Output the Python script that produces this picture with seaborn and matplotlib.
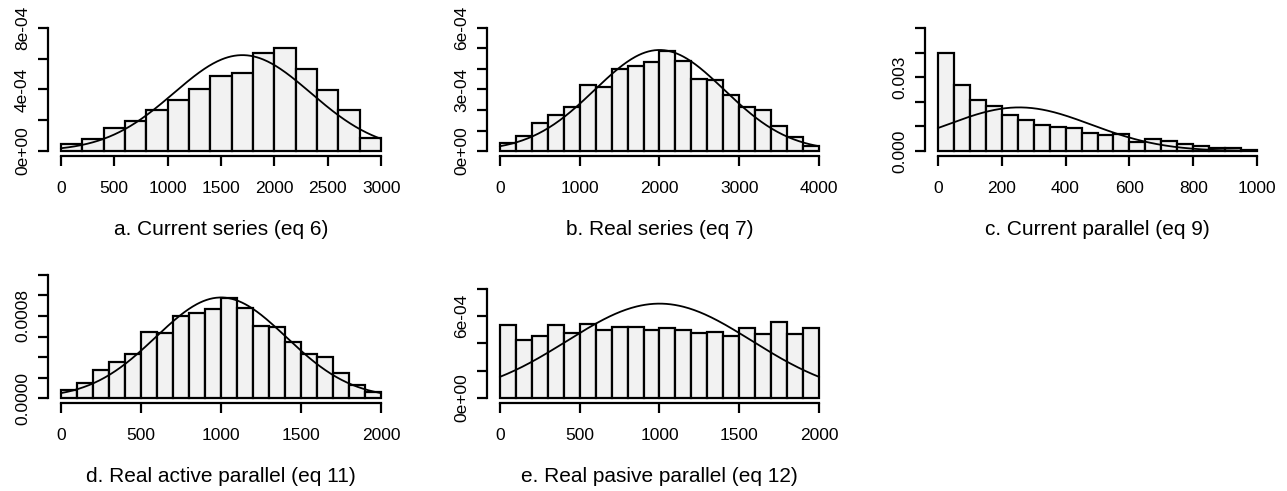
import numpy as np
import pandas as pd
import matplotlib
matplotlib.use("Agg")
import matplotlib.pyplot as plt
import seaborn as sns

# bar heights (density)
a_edges = list(range(0, 3001, 200))
a_dens = [0.43e-4, 0.76e-4, 1.51e-4, 1.95e-4, 2.66e-4, 3.35e-4, 4.06e-4, 4.89e-4,
          5.04e-4, 6.34e-4, 6.72e-4, 5.36e-4, 3.96e-4, 2.70e-4, 0.86e-4]

b_edges = list(range(0, 4001, 200))
b_dens = [0.41e-4, 0.73e-4, 1.35e-4, 1.76e-4, 2.17e-4, 3.20e-4, 3.12e-4, 4.00e-4,
          4.16e-4, 4.32e-4, 4.89e-4, 4.40e-4, 3.52e-4, 3.47e-4, 2.71e-4, 2.17e-4,
          2.00e-4, 1.22e-4, 0.70e-4, 0.26e-4]

c_edges = list(range(0, 1001, 50))
c_dens = [4.00e-3, 2.68e-3, 2.07e-3, 1.84e-3, 1.46e-3, 1.26e-3, 1.06e-3, 0.99e-3,
          0.93e-3, 0.72e-3, 0.66e-3, 0.69e-3, 0.38e-3, 0.47e-3, 0.40e-3, 0.27e-3,
          0.20e-3, 0.13e-3, 0.12e-3, 0.05e-3]

d_edges = list(range(0, 2001, 100))
d_dens = [0.82e-4, 1.50e-4, 2.71e-4, 3.52e-4, 4.34e-4, 6.39e-4, 6.30e-4, 8.03e-4,
          8.32e-4, 8.68e-4, 9.79e-4, 8.81e-4, 7.05e-4, 6.95e-4, 5.48e-4, 4.34e-4,
          4.01e-4, 2.45e-4, 1.31e-4, 0.59e-4]

e_edges = list(range(0, 2001, 100))
e_dens = [5.33e-4, 4.24e-4, 4.53e-4, 5.33e-4, 4.72e-4, 5.45e-4, 5.01e-4, 5.20e-4,
          5.20e-4, 5.01e-4, 5.13e-4, 5.01e-4, 4.72e-4, 4.84e-4, 4.53e-4, 5.13e-4,
          4.65e-4, 5.57e-4, 4.65e-4, 5.13e-4]

# fitted normal curve parameters (mean, sd)
a_norm = (1700, 640)
b_norm = (2000, 810)
c_norm = (255, 225)
d_norm = (1000, 407)
e_norm = (1000, 578)

titles = ["a. Current series (eq 6)", "b. Real series (eq 7)", "c. Current parallel (eq 9)",
          "d. Real active parallel (eq 11)", "e. Real pasive parallel (eq 12)"]

# y axis ticks and the labels that are visible
a_yticks = [0, 2e-4, 4e-4, 6e-4, 8e-4]
a_ylabels = ["0e+00", "", "4e-04", "", "8e-04"]
b_yticks = [0, 1e-4, 2e-4, 3e-4, 4e-4, 5e-4, 6e-4]
b_ylabels = ["0e+00", "", "", "3e-04", "", "", "6e-04"]
c_yticks = [0, 0.001, 0.002, 0.003, 0.004, 0.005]
c_ylabels = ["0.000", "", "", "0.003", "", ""]
d_yticks = [0, 0.0002, 0.0004, 0.0006, 0.0008, 0.0010, 0.0012]
d_ylabels = ["0.0000", "", "", "", "0.0008", "", ""]
e_yticks = [0, 2e-4, 4e-4, 6e-4, 8e-4]
e_ylabels = ["0e+00", "", "", "6e-04", ""]

a_xticks = [0, 500, 1000, 1500, 2000, 2500, 3000]
b_xticks = [0, 1000, 2000, 3000, 4000]
c_xticks = [0, 200, 400, 600, 800, 1000]
d_xticks = [0, 500, 1000, 1500, 2000]
e_xticks = [0, 500, 1000, 1500, 2000]

a_ylim = 8e-4
b_ylim = 6e-4
c_ylim = 0.005
d_ylim = 0.0012
e_ylim = 9e-4

sns.set_style("white")
plt.rcParams["font.family"] = ["Liberation Sans", "DejaVu Sans"]
plt.rcParams["text.color"] = "black"

W, H = 1287, 491
fig = plt.figure(figsize=(W / 100, H / 100), dpi=100)

# panel boxes in pixels: left, right, top, bottom
boxes = [(48, 394, 23, 156), (487, 832, 23, 156), (925, 1270, 23, 156),
         (48, 394, 270, 403), (487, 832, 270, 403)]

panels = [
    (a_edges, a_dens, a_norm, a_xticks, a_yticks, a_ylabels, a_ylim),
    (b_edges, b_dens, b_norm, b_xticks, b_yticks, b_ylabels, b_ylim),
    (c_edges, c_dens, c_norm, c_xticks, c_yticks, c_ylabels, c_ylim),
    (d_edges, d_dens, d_norm, d_xticks, d_yticks, d_ylabels, d_ylim),
    (e_edges, e_dens, e_norm, e_xticks, e_yticks, e_ylabels, e_ylim),
]

for (l, r, t, b), (edges, dens, (mu, sd), xt, yt, yl, ymax), title in zip(boxes, panels, titles):
    ax = fig.add_axes([l / W, 1 - b / H, (r - l) / W, (b - t) / H])
    e = np.array(edges, dtype=float)
    df = pd.DataFrame({"x": (e[:-1] + e[1:]) / 2, "w": dens})
    sns.histplot(data=df, x="x", weights="w", bins=edges, stat="count", ax=ax,
                 color="#F2F2F2", edgecolor="black", linewidth=1.6, alpha=1)

    xs = np.linspace(e[0], e[-1], 300)
    ys = np.exp(-0.5 * ((xs - mu) / sd) ** 2) / (sd * np.sqrt(2 * np.pi))
    sns.lineplot(x=xs, y=ys, ax=ax, color="black", linewidth=1.3)

    xr = e[-1] - e[0]
    ax.set_xlim(e[0] - 0.04 * xr, e[-1] + 0.04 * xr)
    ax.set_ylim(-0.04 * ymax, ymax * 1.04)
    ax.set_xticks(xt)
    ax.set_yticks(yt)
    ax.set_yticklabels(yl, rotation=90, va="center")
    ax.set_xlabel("")
    ax.set_ylabel("")

    for s in ["top", "right"]:
        ax.spines[s].set_visible(False)
    ax.spines["left"].set_bounds(yt[0], yt[-1])
    ax.spines["bottom"].set_bounds(xt[0], xt[-1])
    for s in ["left", "bottom"]:
        ax.spines[s].set_linewidth(1.6)
        ax.spines[s].set_color("black")
    ax.tick_params(direction="out", length=7, width=1.6, labelsize=12.5,
                   colors="black", left=True, bottom=True)
    ax.tick_params(axis="x", pad=11)
    ax.tick_params(axis="y", pad=6)

    ax.text(0.5, -0.55, title, transform=ax.transAxes, ha="center", va="center",
            fontsize=15, color="black")

fig.savefig("out.png", dpi=100, facecolor="white")
